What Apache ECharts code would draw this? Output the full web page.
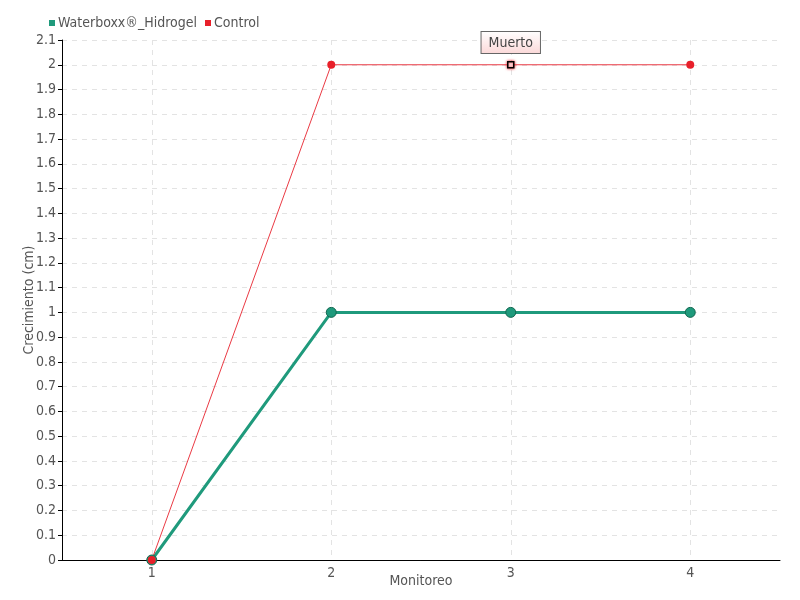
<!DOCTYPE html>
<html><head><meta charset="utf-8">
<script src="https://cdn.jsdelivr.net/npm/echarts@6/dist/echarts.min.js"></script>
<style>html,body{margin:0;padding:0;background:#fff}#c{width:800px;height:600px}</style>
</head><body><div id="c"></div>
<script>
const categories = ['1', '2', '3', '4'];
const waterboxx = [0, 1, 1, 1];
const control = [0, 2, 2, 2];
const deadIndex = 2;
const deadLabel = 'Muerto';
const seriesNames = ['Waterboxx®_Hidrogel', 'Control'];

const FONT = '"DejaVu Sans Condensed", "Liberation Sans Narrow", sans-serif';
const chart = echarts.init(document.getElementById('c'));
const controlData = control.map((v, i) => i === deadIndex ? {
  value: v,
  symbol: 'rect', symbolSize: 6,
  itemStyle: { color: '#fff', borderColor: '#000', borderWidth: 1.5, shadowColor: '#e8202a', shadowBlur: 3 },
  label: {
    show: true, position: 'top', distance: 8, formatter: deadLabel,
    fontFamily: FONT, fontSize: 14, color: '#444',
    padding: [4, 7, 3, 7], borderColor: '#666', borderWidth: 1,
    backgroundColor: { type: 'linear', x: 0, y: 0, x2: 0, y2: 1, colorStops: [{ offset: 0, color: '#ffffff' }, { offset: 1, color: '#fbd8d8' }] }
  }
} : v);

chart.setOption({
  animation: false,
  textStyle: { fontFamily: FONT },
  legend: {
    left: 44, top: 11, itemWidth: 6, itemHeight: 6, itemGap: 8,
    icon: 'rect',
    itemStyle: { borderWidth: 0 },
    textStyle: { fontFamily: FONT, fontSize: 14, color: '#555', padding: [0, 0, 0, -2] },
    data: seriesNames
  },
  grid: { left: 62, right: 20, top: 40, bottom: 40, outerBoundsMode: 'none', containLabel: false },
  xAxis: {
    type: 'category', data: categories, boundaryGap: true,
    name: 'Monitoreo', nameLocation: 'middle', nameGap: 14, nameMoveOverlap: false,
    nameTextStyle: { fontFamily: FONT, fontSize: 14, color: '#555' },
    axisLine: { lineStyle: { color: '#000', width: 1 } },
    axisTick: { alignWithLabel: true, length: 4, lineStyle: { color: '#000' } },
    axisLabel: { fontFamily: FONT, fontSize: 14, color: '#555', margin: 6 },
    splitLine: { show: true, alignWithLabel: true, lineStyle: { color: '#e3e3e3', type: [5, 5] } }
  },
  yAxis: {
    type: 'value', min: 0, max: 2.1, interval: 0.1,
    name: 'Crecimiento (cm)', nameLocation: 'middle', nameGap: 26, nameMoveOverlap: false,
    nameTextStyle: { fontFamily: FONT, fontSize: 14, color: '#555' },
    axisLine: { show: true, lineStyle: { color: '#000', width: 1 } },
    axisTick: { show: true, length: 4, lineStyle: { color: '#000' } },
    axisLabel: { fontFamily: FONT, fontSize: 14, color: '#555', margin: 6,
      formatter: v => String(Math.round(v * 10) / 10) },
    splitLine: { show: true, lineStyle: { color: '#e3e3e3', type: [5, 5] } }
  },
  series: [
    {
      name: seriesNames[0], type: 'line', data: waterboxx,
      color: '#1f9a7c',
      symbol: 'circle', symbolSize: 10,
      lineStyle: { width: 3, color: '#1f9a7c' },
      itemStyle: { color: '#1f9a7c', borderColor: '#13664f', borderWidth: 1 }
    },
    {
      name: seriesNames[1], type: 'line', data: controlData,
      color: '#e8202a',
      symbol: 'circle', symbolSize: 8,
      lineStyle: { width: 1, color: '#ea3a44' },
      itemStyle: { color: '#e8202a' }
    }
  ]
});
</script></body></html>
